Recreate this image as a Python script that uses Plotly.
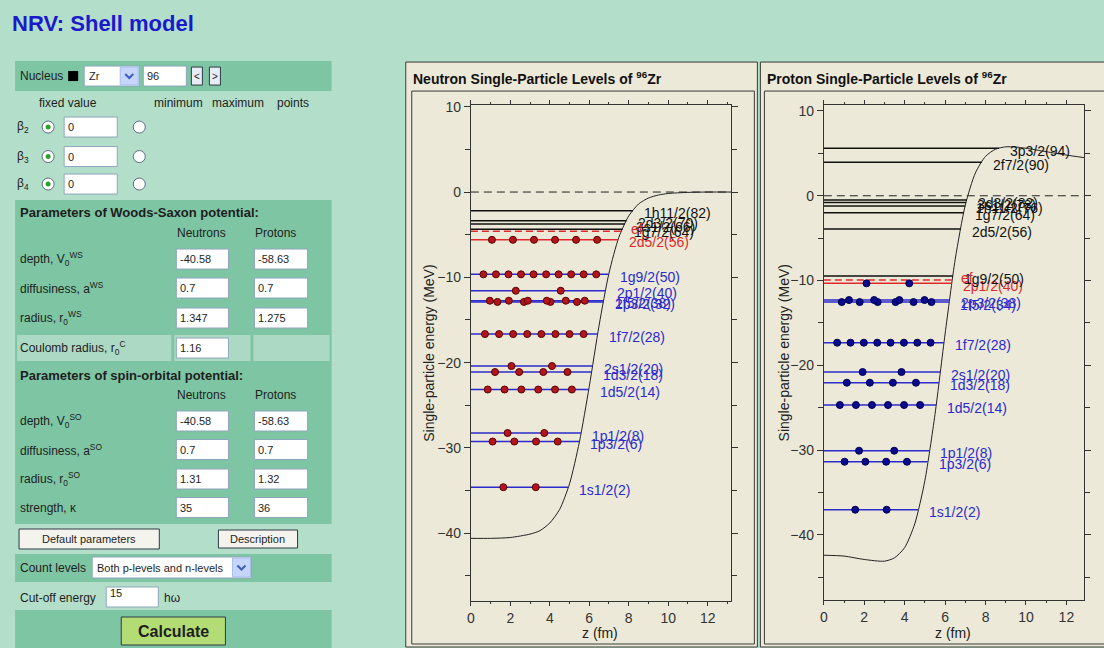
import numpy as np
import plotly.graph_objects as go

W, H = 1104, 648

# ---------------- data ----------------
# Neutron central potential (z in fm, V in MeV)
n_pot_z = [0, 1, 2, 3, 3.5, 4, 4.5, 5, 5.5, 6, 6.5, 7, 7.5, 8, 8.5, 9, 9.5, 10, 11, 12, 13.2]
n_pot_v = [-40.6, -40.6, -40.5, -40.1, -39.7, -38.8, -37.2, -34.2, -29.3, -22.8, -15.6,
           -9.5, -5.3, -2.8, -1.4, -0.7, -0.35, -0.17, -0.04, 0.0, 0.0]

n_level_names = ["1s1/2(2)", "1p3/2(6)", "1p1/2(8)", "1d5/2(14)", "1d3/2(18)", "2s1/2(20)",
                 "1f7/2(28)", "2p3/2(32)", "1f5/2(38)", "2p1/2(40)", "1g9/2(50)", "2d5/2(56)",
                 "1g7/2(64)", "3s1/2(66)", "2d3/2(70)", "1h11/2(82)"]
n_level_energy = [-34.6, -29.25, -28.25, -23.15, -21.1, -20.4, -16.65, -12.88, -12.74,
                  -11.57, -9.65, -5.6, -4.37, -3.75, -3.36, -2.19]
n_level_occ = [2, 4, 2, 6, 4, 2, 8, 4, 6, 2, 10, 6, 0, 0, 0, 0]
n_fermi = -4.61

# Proton potential (central + Coulomb)
p_pot_z = [0, 1, 2, 3, 3.5, 4, 4.5, 5, 5.5, 6, 6.5, 7, 7.5, 8, 8.5, 9, 9.5, 10, 11, 12, 12.87]
p_pot_v = [-42.4, -42.5, -42.9, -43.1, -42.7, -41.5, -38.7, -33.6, -25.8, -16.3, -7.5,
           -1.1, 2.7, 4.65, 5.5, 5.77, 5.75, 5.6, 5.2, 4.8, 4.5]

p_level_names = ["1s1/2(2)", "1p3/2(6)", "1p1/2(8)", "1d5/2(14)", "1d3/2(18)", "2s1/2(20)",
                 "1f7/2(28)", "1f5/2(34)", "2p3/2(38)", "2p1/2(40)", "1g9/2(50)", "2d5/2(56)",
                 "1g7/2(64)", "1h11/2(76)", "3s1/2(78)", "2d3/2(82)", "2f7/2(90)", "3p3/2(94)"]
p_level_energy = [-37.03, -31.37, -30.07, -24.68, -22.05, -20.79, -17.33, -12.54, -12.3,
                  -10.33, -9.47, -3.93, -2.0, -1.2, -0.8, -0.5, 3.94, 5.59]
p_level_occ = [2, 4, 2, 6, 4, 2, 8, 6, 4, 2, 0, 0, 0, 0, 0, 0, 0, 0]
p_fermi = -9.94

# axis extents
n_xrange = [0, 13.2]
n_yrange = [-47.91, 10.2]
p_xrange = [0, 12.87]
p_yrange = [-47.68, 10.7]
x_ticks = [0, 2, 4, 6, 8, 10, 12]
y_ticks = [-40, -30, -20, -10, 0, 10]

# left panel texts / values
ws_rows = [("depth, V<sub>0</sub><sup>WS</sup>", "-40.58", "-58.63"),
           ("diffusiness, a<sup>WS</sup>", "0.7", "0.7"),
           ("radius, r<sub>0</sub><sup>WS</sup>", "1.347", "1.275")]
so_rows = [("depth, V<sub>0</sub><sup>SO</sup>", "-40.58", "-58.63"),
           ("diffusiness, a<sup>SO</sup>", "0.7", "0.7"),
           ("radius, r<sub>0</sub><sup>SO</sup>", "1.31", "1.32"),
           ("strength, κ", "35", "36")]
beta_rows = [("β<sub>2</sub>", "0"), ("β<sub>3</sub>", "0"), ("β<sub>4</sub>", "0")]

# ---------------- style ----------------
FONT = "Liberation Sans, Arial, Helvetica, sans-serif"
PAGE = "#b3dec9"
DARK = "#7dc5a3"
LIGHTROW = "#acd9c3"
BEIGE = "#ece9d8"
FRAME = "#3a3a3a"
TXT = "#1e1e1e"
LBLUE = "#2b2bcc"
LRED = "#e02a2a"
LBLACK = "#111111"

# screen-pixel -> figure-pixel calibration
SX, OX = 1110 / 1104, 6.0
SY, OY = 654 / 648, 6.0

shapes, annots = [], []


def PX(x):
    return (x * SX - OX) / W


def PY(y):
    return 1 - (y * SY - OY) / H


def rect(x0, y0, x1, y1, fill, line=None, lw=1):
    shapes.append(dict(type="rect", xref="paper", yref="paper",
                       x0=PX(x0), x1=PX(x1), y0=PY(y1), y1=PY(y0),
                       fillcolor=fill,
                       line=dict(color=line if line else "rgba(0,0,0,0)", width=lw if line else 0),
                       layer="below"))


def text(x, y, s, size=12, color=TXT, bold=False, anchor="left", angle=0):
    annots.append(dict(xref="paper", yref="paper", x=PX(x), y=PY(y),
                       text=f"<b>{s}</b>" if bold else s, showarrow=False,
                       xanchor=anchor, yanchor="middle", textangle=angle, borderpad=0,
                       font=dict(size=size, color=color, family=FONT)))


def inp(x0, y0, x1, y1, val, size=11):
    rect(x0, y0, x1, y1, "white", "#8fa6bd", 1)
    text(x0 + 3, (y0 + y1) / 2, val, size)


def chevron(cx, cy):
    pts = [(cx - 4, cy - 2), (cx, cy + 2), (cx + 4, cy - 2)]
    path = "M " + " L ".join(f"{PX(a)},{PY(b)}" for a, b in pts)
    shapes.append(dict(type="path", xref="paper", yref="paper", path=path,
                       line=dict(color="#3c5fbf", width=2), layer="below"))


def dropdown(x0, y0, x1, y1, val, size=11):
    rect(x0, y0, x1, y1, "white", "#8fa6bd", 1)
    text(x0 + 4, (y0 + y1) / 2, val, size)
    rect(x1 - 19, y0 + 1, x1 - 1, y1 - 1, "#c6d5fb", "#a9bde8", 1)
    chevron(x1 - 10, (y0 + y1) / 2)


def radio(cx, cy, checked):
    shapes.append(dict(type="circle", xref="paper", yref="paper",
                       x0=PX(cx - 6), x1=PX(cx + 6), y0=PY(cy + 6), y1=PY(cy - 6),
                       fillcolor="white", line=dict(color="#5a6e80", width=1), layer="below"))
    if checked:
        shapes.append(dict(type="circle", xref="paper", yref="paper",
                           x0=PX(cx - 2.5), x1=PX(cx + 2.5), y0=PY(cy + 2.5), y1=PY(cy - 2.5),
                           fillcolor="#2ea02e", line=dict(color="#2ea02e", width=0), layer="below"))


def button(x0, y0, x1, y1, label, size=11, fill="#f4f3ee", bold=False):
    rect(x0, y0, x1, y1, fill, "#2e3a48", 1)
    text((x0 + x1) / 2, (y0 + y1) / 2, label, size, anchor="center", bold=bold)


# ---------------- left control panel ----------------
text(13, 23, "NRV: Shell model", 22, "#1a1acc", bold=True)

rect(17, 61, 333, 91, DARK)
text(21, 76, "Nucleus", 12)
rect(70, 71, 80, 81, "black")
dropdown(86, 66, 141, 86, "Zr")
inp(145, 66, 188, 86, "96")
button(193, 67, 204, 85, "&lt;", 10, "#e6edf4")
button(211, 67, 222, 85, "&gt;", 10, "#e6edf4")

text(40, 103, "fixed value", 12)
text(155, 103, "minimum", 12)
text(213, 103, "maximum", 12)
text(277, 103, "points", 12)

for k, (lab, val) in enumerate(beta_rows):
    yc = [127, 156.5, 184][k]
    text(18, yc, lab, 12)
    radio(50, yc, True)
    inp(66, yc - 10, 119, yc + 10, val)
    radio(141, yc, False)

rect(17, 200, 333, 334, DARK)
text(21, 212, "Parameters of Woods-Saxon potential:", 13, bold=True)
text(178, 233, "Neutrons", 12)
text(256, 233, "Protons", 12)
for k, (lab, vn, vp) in enumerate(ws_rows):
    yc = [259, 288, 318][k]
    text(21, yc, lab, 12)
    inp(178, yc - 10, 230, yc + 10, vn)
    inp(256, yc - 10, 309, yc + 10, vp)

rect(17, 334, 333, 362, DARK)
rect(19, 335, 173, 361, LIGHTROW)
rect(176, 335, 252, 361, LIGHTROW)
rect(255, 335, 331, 361, LIGHTROW)
text(21, 348, "Coulomb radius, r<sub>0</sub><sup>C</sup>", 12)
inp(178, 338, 230, 358, "1.16")

rect(17, 362, 333, 524, DARK)
text(21, 375, "Parameters of spin-orbital potential:", 13, bold=True)
text(178, 395, "Neutrons", 12)
text(256, 395, "Protons", 12)
for k, (lab, vn, vp) in enumerate(so_rows):
    yc = [421, 449.5, 479, 507.5][k]
    text(21, yc, lab, 12)
    inp(178, yc - 10, 230, yc + 10, vn)
    inp(256, yc - 10, 309, yc + 10, vp)

button(21, 529, 161, 549, "Default parameters", 11)
button(220, 530, 299, 548, "Description", 11)

rect(17, 554, 333, 582, DARK)
text(21, 568, "Count levels", 12)
dropdown(94, 557, 253, 578, "Both p-levels and n-levels")

text(21, 598, "Cut-off energy", 12)
rect(108, 587, 160, 607, "white", "#8fa6bd", 1)
text(111, 593, "15", 11)
text(165, 598, "hω", 12)

rect(17, 610, 333, 652, DARK)
button(123, 617, 227, 645, "Calculate", 16, "#b3dc74", bold=True)

# ---------------- chart panels ----------------
rect(407, 62, 758, 647, BEIGE, FRAME, 1)
rect(413, 91, 755, 644, BEIGE, FRAME, 1)
rect(761, 62, 1112, 647, BEIGE, FRAME, 1)
rect(765, 91, 1112, 644, BEIGE, FRAME, 1)

text(413, 78, "Neutron Single-Particle Levels of <sup>96</sup>Zr", 14, "#111", bold=True)
text(767, 78, "Proton Single-Particle Levels of <sup>96</sup>Zr", 14, "#111", bold=True)
text(430, 353, "Single-particle energy (MeV)", 14, "#222", anchor="center", angle=-90)
text(785, 353, "Single-particle energy (MeV)", 14, "#222", anchor="center", angle=-90)
text(601, 633, "z (fm)", 14, "#222", anchor="center")
text(953, 633, "z (fm)", 14, "#222", anchor="center")


def turning(E, zs, vs):
    zs = np.asarray(zs, float)
    vs = np.asarray(vs, float)
    i0 = int(np.argmin(vs))
    for j in range(i0 + 1, len(vs)):
        if vs[j] >= E:
            return zs[j - 1] + (E - vs[j - 1]) * (zs[j] - zs[j - 1]) / (vs[j] - vs[j - 1])
    return zs[-1]


fig = go.Figure()


def add_panel(xa, ya, names, energies, occ, fermi, pz, pv, xr, dot_fill, dot_line):
    xref = "x" if xa == "x" else "x2"
    yref = "y" if ya == "y" else "y2"
    # zero line
    fig.add_trace(go.Scatter(x=[xr[0], xr[1]], y=[0, 0], mode="lines", xaxis=xa, yaxis=ya,
                             line=dict(color="#222", width=1, dash="8px,5px"), hoverinfo="skip"))
    # potential
    fig.add_trace(go.Scatter(x=pz, y=pv, mode="lines", xaxis=xa, yaxis=ya,
                             line=dict(color="#222", width=1, shape="spline", smoothing=0.7),
                             hoverinfo="skip"))
    ends = [turning(E, pz, pv) for E in energies]
    filled = [i for i, o in enumerate(occ) if o > 0]
    last = max(filled, key=lambda i: energies[i])
    groups = {LBLUE: ([], []), LRED: ([], []), LBLACK: ([], [])}
    colors = []
    for i, E in enumerate(energies):
        c = LRED if i == last else (LBLUE if occ[i] > 0 else LBLACK)
        colors.append(c)
        gx, gy = groups[c]
        gx += [0, ends[i], None]
        gy += [E, E, None]
    for c, (gx, gy) in groups.items():
        fig.add_trace(go.Scatter(x=gx, y=gy, mode="lines", xaxis=xa, yaxis=ya,
                                 line=dict(color=c, width=1.5), hoverinfo="skip"))
    # Fermi level
    fe = turning(fermi, pz, pv)
    fig.add_trace(go.Scatter(x=[0, fe], y=[fermi, fermi], mode="lines", xaxis=xa, yaxis=ya,
                             line=dict(color=LRED, width=1.5, dash="7px,4px"), hoverinfo="skip"))
    # occupation dots
    dx, dy = [], []
    for i, E in enumerate(energies):
        for k in range(1, occ[i] + 1):
            dx.append(ends[i] * k / (occ[i] + 1))
            dy.append(E)
    fig.add_trace(go.Scatter(x=dx, y=dy, mode="markers", xaxis=xa, yaxis=ya,
                             marker=dict(size=7, color=dot_fill, line=dict(color=dot_line, width=1)),
                             hoverinfo="skip"))
    # labels
    for i, E in enumerate(energies):
        annots.append(dict(xref=xref, yref=yref, x=ends[i], y=E, text=names[i], showarrow=False,
                           xanchor="left", yanchor="middle", xshift=9, yshift=-2.5,
                           font=dict(size=14, color=colors[i], family=FONT)))
    annots.append(dict(xref=xref, yref=yref, x=fe, y=fermi, text="ef", showarrow=False,
                       xanchor="left", yanchor="middle", xshift=7, yshift=2,
                       font=dict(size=14, color=LRED, family=FONT)))


add_panel("x", "y", n_level_names, n_level_energy, n_level_occ, n_fermi,
          n_pot_z, n_pot_v, n_xrange, "#b3161a", "#5c0000")
add_panel("x2", "y2", p_level_names, p_level_energy, p_level_occ, p_fermi,
          p_pot_z, p_pot_v, p_xrange, "#0a0a8c", "#000050")

axis_common = dict(showline=True, linecolor="#333", linewidth=1, mirror="allticks",
                   ticks="outside", tickcolor="#333", tickwidth=1,
                   showgrid=False, zeroline=False,
                   tickfont=dict(size=14, color="#333", family=FONT), fixedrange=True)

fig.update_layout(
    width=W, height=H, margin=dict(l=0, r=0, t=0, b=0, pad=0),
    paper_bgcolor=PAGE, plot_bgcolor="rgba(0,0,0,0)", showlegend=False,
    xaxis=dict(domain=[PX(472), PX(732)], range=n_xrange, anchor="y", tickvals=x_ticks, ticklen=4,
               minor=dict(dtick=1, ticklen=2, ticks="outside", tickcolor="#333", showgrid=False),
               **axis_common),
    yaxis=dict(domain=[PY(600.7), PY(105)], range=n_yrange, anchor="x", tickvals=y_ticks, ticklen=6,
               minor=dict(dtick=5, ticklen=5, ticks="outside", tickcolor="#333", showgrid=False),
               **axis_common),
    xaxis2=dict(domain=[PX(824.3), PX(1084)], range=p_xrange, anchor="y2", tickvals=x_ticks, ticklen=4,
                minor=dict(dtick=1, ticklen=2, ticks="outside", tickcolor="#333", showgrid=False),
                **axis_common),
    yaxis2=dict(domain=[PY(600), PY(105)], range=p_yrange, anchor="x2", tickvals=y_ticks, ticklen=6,
                minor=dict(dtick=5, ticklen=5, ticks="outside", tickcolor="#333", showgrid=False),
                **axis_common),
    shapes=shapes, annotations=annots,
)

fig.write_html("out.html", config={"displayModeBar": False},
               post_script="document.documentElement.style.margin='0';"
                           "document.documentElement.style.overflow='hidden';"
                           "document.documentElement.style.background='" + PAGE + "';"
                           "document.body.style.margin='0';document.body.style.padding='0';"
                           "document.body.style.overflow='hidden';"
                           "document.body.style.background='" + PAGE + "';")
